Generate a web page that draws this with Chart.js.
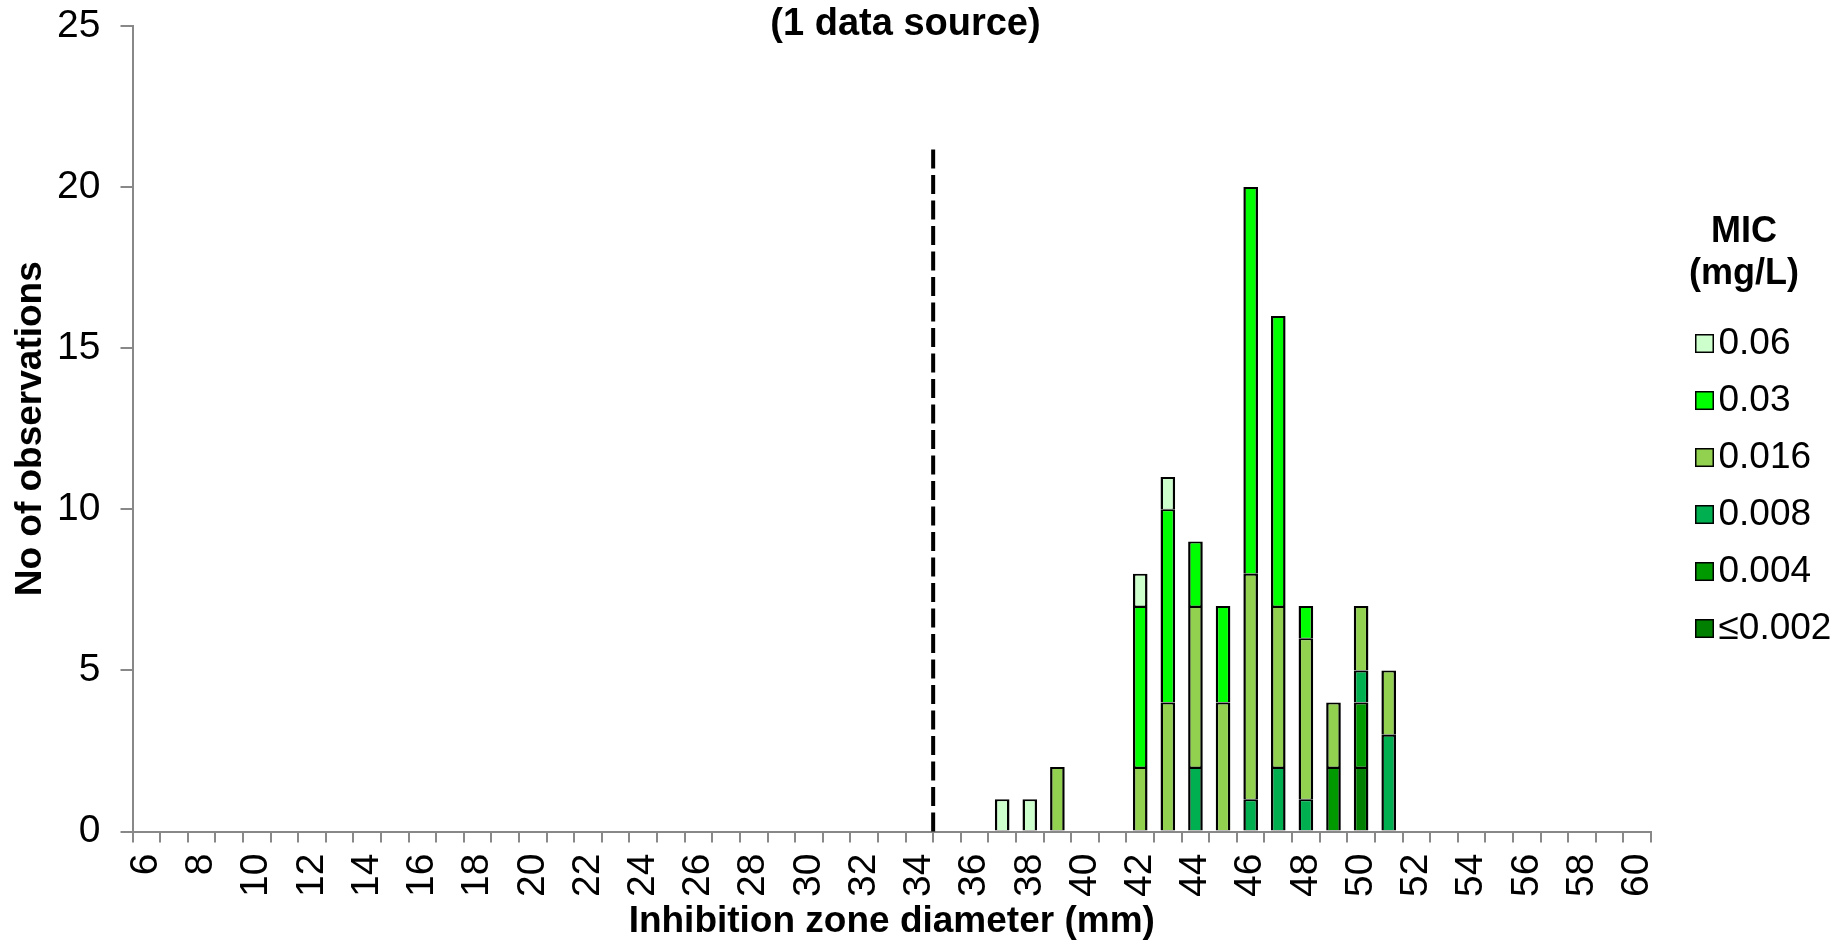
<!DOCTYPE html>
<html>
<head>
<meta charset="utf-8">
<script src="https://cdn.jsdelivr.net/npm/chart.js@4/dist/chart.umd.min.js"></script>
<style>
  html, body { margin: 0; padding: 0; background: #fff; }
  #wrap { width: 1839px; height: 944px; position: relative; }
</style>
</head>
<body>
<div id="wrap"><canvas id="myChart"></canvas></div>
<script>
// zone diameters (mm), one bar slot each
const diametros = [
  6, 7, 8, 9, 10, 11, 12, 13, 14, 15,
  16, 17, 18, 19, 20, 21, 22, 23, 24, 25,
  26, 27, 28, 29, 30, 31, 32, 33, 34, 35,
  36, 37, 38, 39, 40, 41, 42, 43, 44, 45,
  46, 47, 48, 49, 50, 51, 52, 53, 54, 55,
  56, 57, 58, 59, 60
];

// counts per MIC (mg/L), same order as diametros
const mic0002 = [
  0, 0, 0, 0, 0, 0, 0, 0, 0, 0,
  0, 0, 0, 0, 0, 0, 0, 0, 0, 0,
  0, 0, 0, 0, 0, 0, 0, 0, 0, 0,
  0, 0, 0, 0, 0, 0, 0, 0, 0, 0,
  0, 0, 0, 0, 2, 0, 0, 0, 0, 0,
  0, 0, 0, 0, 0
];
const mic0004 = [
  0, 0, 0, 0, 0, 0, 0, 0, 0, 0,
  0, 0, 0, 0, 0, 0, 0, 0, 0, 0,
  0, 0, 0, 0, 0, 0, 0, 0, 0, 0,
  0, 0, 0, 0, 0, 0, 0, 0, 0, 0,
  0, 0, 0, 2, 2, 0, 0, 0, 0, 0,
  0, 0, 0, 0, 0
];
const mic0008 = [
  0, 0, 0, 0, 0, 0, 0, 0, 0, 0,
  0, 0, 0, 0, 0, 0, 0, 0, 0, 0,
  0, 0, 0, 0, 0, 0, 0, 0, 0, 0,
  0, 0, 0, 0, 0, 0, 0, 0, 2, 0,
  1, 2, 1, 0, 1, 3, 0, 0, 0, 0,
  0, 0, 0, 0, 0
];
const mic0016 = [
  0, 0, 0, 0, 0, 0, 0, 0, 0, 0,
  0, 0, 0, 0, 0, 0, 0, 0, 0, 0,
  0, 0, 0, 0, 0, 0, 0, 0, 0, 0,
  0, 0, 0, 2, 0, 0, 2, 4, 5, 4,
  7, 5, 5, 2, 2, 2, 0, 0, 0, 0,
  0, 0, 0, 0, 0
];
const mic003 = [
  0, 0, 0, 0, 0, 0, 0, 0, 0, 0,
  0, 0, 0, 0, 0, 0, 0, 0, 0, 0,
  0, 0, 0, 0, 0, 0, 0, 0, 0, 0,
  0, 0, 0, 0, 0, 0, 5, 6, 2, 3,
  12, 9, 1, 0, 0, 0, 0, 0, 0, 0,
  0, 0, 0, 0, 0
];
const mic006 = [
  0, 0, 0, 0, 0, 0, 0, 0, 0, 0,
  0, 0, 0, 0, 0, 0, 0, 0, 0, 0,
  0, 0, 0, 0, 0, 0, 0, 0, 0, 0,
  0, 1, 1, 0, 0, 0, 1, 1, 0, 0,
  0, 0, 0, 0, 0, 0, 0, 0, 0, 0,
  0, 0, 0, 0, 0
];

const etiquetasMic = ["≤0.002", "0.004", "0.008", "0.016", "0.03", "0.06"];
const coloresMic = ["#007F00", "#009900", "#00B050", "#92D050", "#00FF00", "#CCFFCC"];
const valoresY = [0, 5, 10, 15, 20, 25];

// breakpoint drawn between these two diameters, up to this count
const cortePar = [34, 35];
const corteAlto = 21.2;

const fuente = "'Liberation Sans', Arial, sans-serif";
const gris = "#888888";

const series = [mic0002, mic0004, mic0008, mic0016, mic003, mic006];
const datasets = series.map((valores, i) => {
  return {
    label: etiquetasMic[i],
    data: valores,
    backgroundColor: coloresMic[i],
    borderColor: "#000",
    borderWidth: { top: 2, bottom: 0.5, left: 2.5, right: 2.5 },
    borderSkipped: false,
    barPercentage: 0.53,
    categoryPercentage: 1,
  };
});

const lineaCorte = {
  id: "lineaCorte",
  afterDatasetsDraw(chart) {
    const x = chart.scales.x;
    const y = chart.scales.y;
    const px = (x.getPixelForValue(diametros.indexOf(cortePar[0])) +
      x.getPixelForValue(diametros.indexOf(cortePar[1]))) / 2;
    const ctx = chart.ctx;
    ctx.save();
    ctx.strokeStyle = "#000";
    ctx.lineWidth = 4;
    ctx.setLineDash([19, 6.5]);
    ctx.beginPath();
    ctx.moveTo(px, y.getPixelForValue(0));
    ctx.lineTo(px, y.getPixelForValue(corteAlto));
    ctx.stroke();
    ctx.restore();
  },
};

// legend squares sit closer to their text than Chart.js allows, so draw them here
const cajasLeyenda = {
  id: "cajasLeyenda",
  afterLayout(chart) {
    chart.legend.right = chart.width;
  },
  afterDraw(chart) {
    const leyenda = chart.legend;
    const ctx = chart.ctx;
    ctx.save();
    leyenda.legendItems.forEach((item, i) => {
      const caja = leyenda.legendHitBoxes[i];
      const color = chart.data.datasets[item.datasetIndex].backgroundColor;
      const x = caja.left - 2;
      const y = caja.top + 9;
      ctx.fillStyle = color;
      ctx.fillRect(x, y, 19, 19);
      ctx.strokeStyle = "#000";
      ctx.lineWidth = 1.5;
      ctx.strokeRect(x + 0.75, y + 0.75, 17.5, 17.5);
    });
    ctx.restore();
  },
};

const config = {
  type: "bar",
  data: { labels: diametros.map(String), datasets },
  options: {
    responsive: true,
    maintainAspectRatio: false,
    animation: false,
    layout: { padding: { left: 0, right: 28, top: 0, bottom: 0 } },
    plugins: {
      tooltip: { enabled: false },
      title: {
        display: true,
        text: "(1 data source)",
        color: "#000",
        font: { family: fuente, size: 38, weight: "bold" },
        padding: { top: 2, bottom: -21.6 },
      },
      legend: {
        position: "right",
        align: "start",
        reverse: true,
        maxWidth: 134,
        title: {
          display: true,
          text: ["MIC", "(mg/L)"],
          color: "#000",
          position: "center",
          font: { family: fuente, size: 36, weight: "bold", lineHeight: 1.167 },
          padding: { top: 214, bottom: 49 },
        },
        labels: {
          color: "#000",
          font: { family: fuente, size: 37 },
          boxWidth: 3,
          boxHeight: 19,
          padding: 20,
          generateLabels(chart) {
            const base = Chart.defaults.plugins.legend.labels.generateLabels(chart);
            return base.map((item) => {
              item.fillStyle = "rgba(0,0,0,0)";
              item.strokeStyle = "rgba(0,0,0,0)";
              item.lineWidth = 0;
              return item;
            });
          },
        },
      },
    },
    scales: {
      x: {
        stacked: true,
        grid: {
          display: true,
          drawOnChartArea: false,
          drawTicks: true,
          tickLength: 11,
          offset: true,
          color: gris,
          lineWidth: 2,
        },
        border: { display: true, color: gris, width: 2 },
        ticks: {
          autoSkip: false,
          maxRotation: 90,
          minRotation: 90,
          padding: 11,
          color: "#000",
          font: { family: fuente, size: 39 },
          callback: function (value, index) {
            const d = diametros[index];
            return d % 2 === 0 ? String(d) : "";
          },
        },
        title: {
          display: true,
          text: "Inhibition zone diameter (mm)",
          color: "#000",
          font: { family: fuente, size: 37, weight: "bold" },
          padding: { top: 0, bottom: 0 },
        },
        afterFit: (s) => {
          s.height = 112.5;
          s.paddingLeft = 0;
          s.paddingRight = 0;
        },
      },
      y: {
        stacked: true,
        min: valoresY[0],
        max: valoresY[valoresY.length - 1],
        grid: {
          display: true,
          drawOnChartArea: false,
          drawTicks: true,
          tickLength: 12,
          color: gris,
          lineWidth: 2,
        },
        border: { display: true, color: gris, width: 2 },
        ticks: {
          stepSize: 5,
          padding: 20,
          color: "#000",
          font: { family: fuente, size: 39 },
        },
        title: {
          display: true,
          text: "No of observations",
          color: "#000",
          font: { family: fuente, size: 37, weight: "bold" },
          padding: { top: 9, bottom: 0 },
        },
        afterFit: (s) => {
          s.width = 132.5;
          s.paddingTop = 0;
          s.paddingBottom = 0;
        },
      },
      hueco: {
        type: "linear",
        position: "right",
        display: true,
        grid: { display: false },
        border: { display: false },
        ticks: { display: false },
        afterFit: (s) => { s.width = 26; },
      },
    },
  },
  plugins: [lineaCorte, cajasLeyenda],
};

const myChart = document.getElementById("myChart");
const grafico = new Chart(myChart, config);
</script>
</body>
</html>
